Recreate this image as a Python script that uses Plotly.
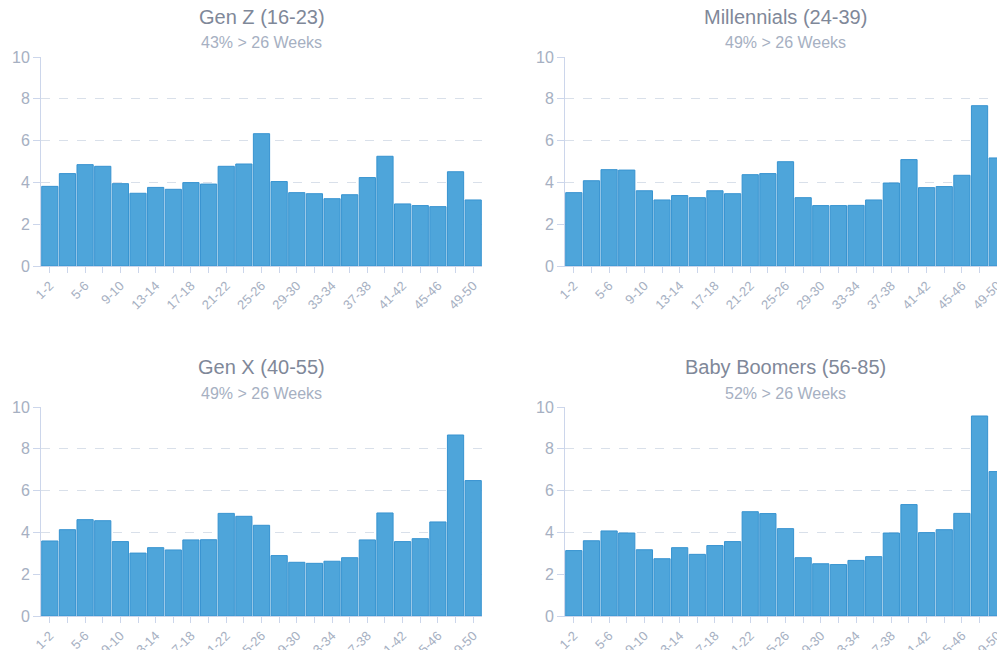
"""Weeks off work by generation - 2x2 column charts"""
import plotly.graph_objects as go

# ---- data ----
weeks = [f"{i}-{i + 1}" for i in range(1, 51, 2)]

gen_z = [3.81, 4.42, 4.85, 4.77, 3.94, 3.48, 3.76, 3.67, 3.99, 3.92, 4.77, 4.88, 6.33,
         4.04, 3.51, 3.46, 3.22, 3.41, 4.23, 5.25, 2.97, 2.89, 2.84, 4.51, 3.16]
millennials = [3.51, 4.08, 4.61, 4.59, 3.60, 3.16, 3.37, 3.27, 3.60, 3.46, 4.37, 4.42, 4.99,
               3.27, 2.89, 2.89, 2.90, 3.16, 3.97, 5.09, 3.75, 3.80, 4.34, 7.67, 5.17]
gen_x = [3.59, 4.13, 4.61, 4.56, 3.56, 3.01, 3.27, 3.16, 3.64, 3.65, 4.91, 4.77, 4.34,
         2.89, 2.57, 2.52, 2.62, 2.79, 3.64, 4.93, 3.56, 3.70, 4.50, 8.66, 6.48]
boomers = [3.13, 3.60, 4.07, 3.97, 3.17, 2.74, 3.27, 2.95, 3.37, 3.56, 4.99, 4.90, 4.18,
           2.79, 2.50, 2.46, 2.66, 2.84, 3.97, 5.33, 3.99, 4.13, 4.91, 9.57, 6.91]

titles = ["Gen Z (16-23)", "Millennials (24-39)", "Gen X (40-55)", "Baby Boomers (56-85)"]
subtitles = ["43% > 26 Weeks", "49% > 26 Weeks", "49% > 26 Weeks", "52% > 26 Weeks"]
series = [gen_z, millennials, gen_x, boomers]

# ---- layout in pixels ----
W, H = 1012, 650
cols = [(41, 482), (565, 1006)]
rows = [(57, 266), (407, 616)]

BAR = "#4ea5da"
EDGE = "#3793d0"
GRID = "#d9e0ea"
AXIS = "#ccd6eb"
TICK = "#a6b0c2"
FONT = "Liberation Sans, Arial, sans-serif"

fig = go.Figure()
tick_text = [w if i % 2 == 0 else "" for i, w in enumerate(weeks)]

for k, vals in enumerate(series):
    r, c = divmod(k, 2)
    n = str(k + 1) if k else ""
    fig.add_trace(go.Bar(
        x=weeks, y=vals, xaxis="x" + n, yaxis="y" + n,
        marker=dict(color=BAR, line=dict(color=EDGE, width=1)),
        showlegend=False,
    ))
    x0, x1 = cols[c]
    y0, y1 = rows[r]
    fig.layout["xaxis" + n] = dict(
        domain=[x0 / W, x1 / W], anchor="y" + n, type="category",
        range=[-0.5, 24.5], tickmode="array", tickvals=weeks, ticktext=tick_text,
        tickangle=-45, tickfont=dict(size=13, color=TICK, family=FONT),
        showline=True, linecolor=AXIS, linewidth=1,
        ticks="outside", ticklen=6, tickcolor=AXIS,
        showgrid=False, automargin=False, fixedrange=True,
    )
    fig.layout["yaxis" + n] = dict(
        domain=[1 - y1 / H, 1 - y0 / H], anchor="x" + n,
        range=[0, 10], dtick=2, tick0=0,
        tickfont=dict(size=16, color=TICK, family=FONT),
        showline=True, linecolor=AXIS, linewidth=1,
        ticks="outside", ticklen=7, tickcolor=AXIS,
        showgrid=True, gridcolor=GRID, griddash="dash", gridwidth=1,
        zeroline=False, automargin=False, fixedrange=True,
    )
    cx = (x0 + x1) / 2 / W
    fig.add_annotation(text=titles[k], x=cx, y=1 - (y0 - 40) / H, xref="paper", yref="paper",
                       xanchor="center", yanchor="middle", showarrow=False,
                       font=dict(size=20, color="#7f8899", family=FONT))
    fig.add_annotation(text=subtitles[k], x=cx, y=1 - (y0 - 14) / H, xref="paper", yref="paper",
                       xanchor="center", yanchor="middle", showarrow=False,
                       font=dict(size=16, color="#a6b0c2", family=FONT))

fig.update_layout(
    width=W, height=H,
    margin=dict(l=0, r=0, t=0, b=0),
    bargap=0.08,
    plot_bgcolor="white", paper_bgcolor="white",
)

fig.write_html("out.html", config={"displayModeBar": False},
               post_script="document.body.style.margin='0';document.body.style.overflow='hidden';")
